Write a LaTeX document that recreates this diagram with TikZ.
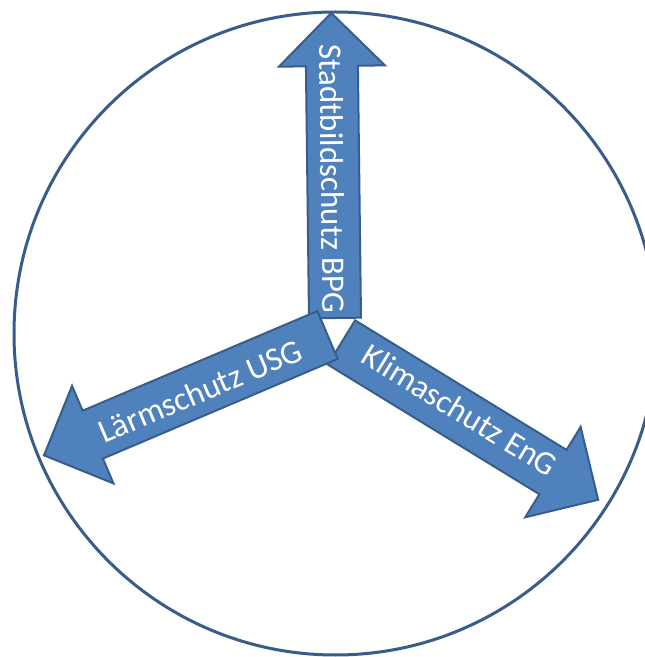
\documentclass[tikz,border=0pt]{standalone}
\usepackage{fontspec}
\setmainfont{Carlito}
\definecolor{arrowfill}{HTML}{4F81BD}
\definecolor{arrowline}{HTML}{385D8A}
\tikzset{
  arrowbody/.style={fill=arrowfill, draw=arrowline, line width=2pt, line join=miter},
  ring/.style={draw=arrowline, line width=3pt},
  arrowtext/.style={text=white, inner sep=0pt, font=\fontsize{33}{40}\selectfont}
}
% block arrow: tail centre (#1,#2), direction #3, total length #4
\newcommand\blockarrow[4]{%
  \draw[arrowbody, shift={(#1,#2)}, rotate=#3]
    (0,-26) -- (#4-53,-26) -- (#4-53,-53) -- (#4,0) -- (#4-53,53) -- (#4-53,26) -- (0,26) -- cycle;}
\begin{document}
\begin{tikzpicture}[x=1pt,y=1pt]
  \useasboundingbox (0,0) rectangle (645,657);
  \fill[white] (0,0) rectangle (645,657);
  \draw[ring] (335.5,323.5) circle[radius=321.5];
  % three arrows from the centre
  \blockarrow{335}{339}{90.7}{305}
  \blockarrow{341.5}{314.5}{-31.5}{301}
  \blockarrow{327.5}{322}{203}{308}
  % labels along the shafts
  \node[arrowtext, rotate=-89.3] (bpg) at (332.5,478) {Stadtbildschutz BPG};
  \node[arrowtext, rotate=-31.5] (eng) at (460,247) {Klimaschutz EnG};
  \node[arrowtext, rotate=23] (usg) at (200,266) {Lärmschutz USG};
\end{tikzpicture}
\end{document}
